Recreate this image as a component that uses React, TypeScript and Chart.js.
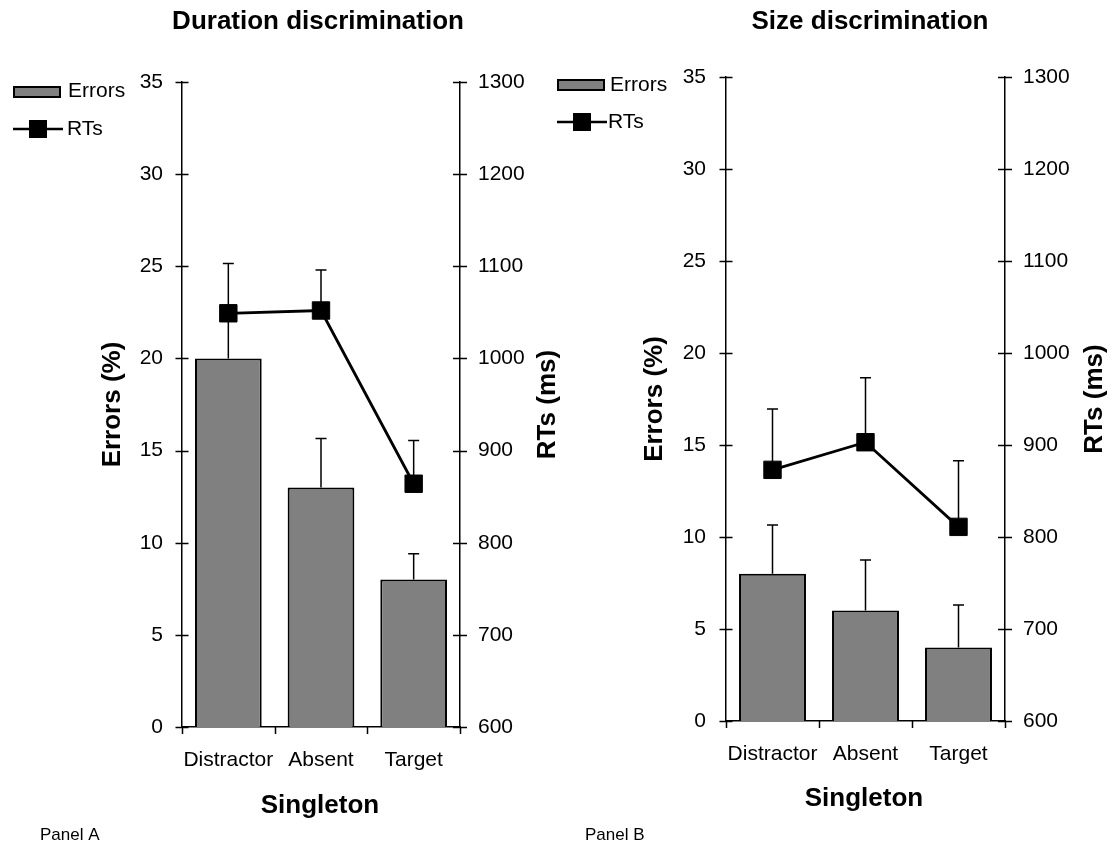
import React, { useEffect, useRef } from 'react';
import { Chart, registerables } from 'chart.js';

Chart.register(...registerables);

// ---------- data ----------
const categories = ['Distractor', 'Absent', 'Target'];

const durationErrors = [20, 13, 8];
const durationErrorsSE = [2.5, 2.65, 1.4];
const durationRTs = [1049, 1052, 864];
const durationRTsSE = [54, 44, 47];

const sizeErrors = [8, 6, 4];
const sizeErrorsSE = [2.65, 2.75, 2.3];
const sizeRTs = [873, 903, 811];
const sizeRTsSE = [66, 70, 72];

const errorsRange = [0, 35];
const errorsStep = 5;
const rtRange = [600, 1300];
const rtStep = 100;

// ---------- styling / layout ----------
const FONT = "'Liberation Sans', Arial, Helvetica, sans-serif";
const BAR_COLOR = '#808080';
const H = 854;

type Panel = {
  id: string;
  title: string;
  panelLabel: string;
  errors: number[];
  errorsSE: number[];
  rts: number[];
  rtsSE: number[];
  canvasLeft: number;
  canvasWidth: number;
  plotLeft: number;
  plotRight: number;
  plotTop: number;
  plotBottom: number;
  titleX: number;
  errTitleX: number;
  rtTitleX: number;
  xTitle: [number, number];
  panelLabelPos: [number, number];
  legend: { boxX: number; boxY: number; errTextY: number; rtY: number; rtTextX: number; errTextX: number };
  leftPad: number;
};

const panels: Panel[] = [
  {
    id: 'A',
    title: 'Duration discrimination',
    panelLabel: 'Panel A',
    errors: durationErrors,
    errorsSE: durationErrorsSE,
    rts: durationRTs,
    rtsSE: durationRTsSE,
    canvasLeft: 0,
    canvasWidth: 575,
    plotLeft: 182,
    plotRight: 460,
    plotTop: 82,
    plotBottom: 727,
    titleX: 318,
    errTitleX: 113,
    rtTitleX: 548,
    xTitle: [320, 806],
    panelLabelPos: [40, 835],
    legend: { boxX: 13, boxY: 86, errTextX: 68, errTextY: 91, rtY: 129, rtTextX: 67 },
    leftPad: 19,
  },
  {
    id: 'B',
    title: 'Size discrimination',
    panelLabel: 'Panel B',
    errors: sizeErrors,
    errorsSE: sizeErrorsSE,
    rts: sizeRTs,
    rtsSE: sizeRTsSE,
    canvasLeft: 545,
    canvasWidth: 573,
    plotLeft: 726,
    plotRight: 1005,
    plotTop: 77,
    plotBottom: 721,
    titleX: 870,
    errTitleX: 655,
    rtTitleX: 1095,
    xTitle: [864, 799],
    panelLabelPos: [585, 835],
    legend: { boxX: 557, boxY: 79, errTextX: 610, errTextY: 85, rtY: 122, rtTextX: 608 },
    leftPad: 20,
  },
];

function makePlugin(p: Panel) {
  const ox = p.canvasLeft;
  return {
    id: 'panelDeco' + p.id,
    beforeDatasetsDraw(chart: any) {
      const ctx = chart.ctx;
      const xs = chart.scales.x;
      const ys = chart.scales.y;
      const y2 = chart.scales.y2;
      ctx.save();
      ctx.strokeStyle = '#000';
      ctx.lineWidth = 1.5;
      const cap = 5.5;
      const drawErr = (px: number, from: number, to: number) => {
        ctx.beginPath();
        ctx.moveTo(px, from);
        ctx.lineTo(px, to);
        ctx.moveTo(px - cap, to);
        ctx.lineTo(px + cap, to);
        ctx.stroke();
      };
      for (let i = 0; i < categories.length; i++) {
        const px = xs.getPixelForValue(i);
        drawErr(px, ys.getPixelForValue(p.errors[i]), ys.getPixelForValue(p.errors[i] + p.errorsSE[i]));
        drawErr(px, y2.getPixelForValue(p.rts[i]), y2.getPixelForValue(p.rts[i] + p.rtsSE[i]));
      }
      ctx.restore();
    },
    afterDraw(chart: any) {
      const ctx = chart.ctx;
      const area = chart.chartArea;
      const xs = chart.scales.x;
      const ys = chart.scales.y;
      const y2 = chart.scales.y2;
      ctx.save();
      ctx.strokeStyle = '#000';
      ctx.lineWidth = 1.5;
      // tick marks crossing the axes
      ctx.beginPath();
      ys.ticks.forEach((t: any) => {
        const py = Math.round(ys.getPixelForValue(t.value)) + 0.5;
        ctx.moveTo(area.left - 6.5, py);
        ctx.lineTo(area.left + 6.5, py);
      });
      y2.ticks.forEach((t: any) => {
        const py = Math.round(y2.getPixelForValue(t.value)) + 0.5;
        ctx.moveTo(area.right - 7, py);
        ctx.lineTo(area.right + 7, py);
      });
      [-0.5, 0.5, 1.5, 2.5].forEach((v) => {
        const px = Math.round(xs.getPixelForValue(v)) + 0.5;
        ctx.moveTo(px, area.bottom);
        ctx.lineTo(px, area.bottom + 7);
      });
      ctx.stroke();

      ctx.fillStyle = '#000';
      // title
      ctx.font = `bold 26px ${FONT}`;
      ctx.textAlign = 'center';
      ctx.textBaseline = 'middle';
      ctx.fillText(p.title, p.titleX - ox, 22);
      // x title
      ctx.fillText('Singleton', p.xTitle[0] - ox, p.xTitle[1]);
      // y titles
      const midY = (area.top + area.bottom) / 2;
      ctx.save();
      ctx.translate(p.errTitleX - ox, midY);
      ctx.rotate(-Math.PI / 2);
      ctx.fillText('Errors (%)', 0, 0);
      ctx.restore();
      ctx.save();
      ctx.translate(p.rtTitleX - ox, midY);
      ctx.rotate(-Math.PI / 2);
      ctx.fillText('RTs (ms)', 0, 0);
      ctx.restore();
      // panel label
      ctx.font = `17px ${FONT}`;
      ctx.textAlign = 'left';
      ctx.fillText(p.panelLabel, p.panelLabelPos[0] - ox, p.panelLabelPos[1]);

      // legend
      const L = p.legend;
      ctx.fillStyle = BAR_COLOR;
      ctx.fillRect(L.boxX - ox, L.boxY, 48, 12);
      ctx.lineWidth = 2;
      ctx.strokeRect(L.boxX - ox + 1, L.boxY + 1, 46, 10);
      ctx.fillStyle = '#000';
      ctx.font = `21px ${FONT}`;
      ctx.fillText('Errors', L.errTextX - ox, L.errTextY);
      ctx.lineWidth = 2.5;
      ctx.beginPath();
      ctx.moveTo(L.boxX - ox, L.rtY);
      ctx.lineTo(L.boxX - ox + 50, L.rtY);
      ctx.stroke();
      ctx.fillRect(L.boxX - ox + 25 - 9, L.rtY - 9, 18, 18);
      ctx.fillText('RTs', L.rtTextX - ox, L.rtY);
      ctx.restore();
    },
  };
}

function PanelChart({ p }: { p: Panel }) {
  const ref = useRef<HTMLCanvasElement>(null);
  useEffect(() => {
    const canvas = ref.current;
    if (!canvas) return;
    const leftW = p.plotLeft - p.canvasLeft;
    const rightW = p.canvasLeft + p.canvasWidth - p.plotRight;
    const bottomH = H - p.plotBottom;
    const tickFont = { family: FONT, size: 21 };
    const chart = new Chart(canvas, {
      type: 'bar',
      data: {
        labels: categories,
        datasets: [
          {
            type: 'line',
            label: 'RTs',
            data: p.rts,
            yAxisID: 'y2',
            borderColor: '#000',
            borderWidth: 2.8,
            backgroundColor: '#000',
            pointStyle: 'rect',
            pointRadius: 12.3,
            pointBorderWidth: 1,
            pointBackgroundColor: '#000',
            pointBorderColor: '#000',
            tension: 0,
            order: 1,
          } as any,
          {
            type: 'bar',
            label: 'Errors',
            data: p.errors,
            yAxisID: 'y',
            backgroundColor: BAR_COLOR,
            borderColor: '#000',
            borderWidth: 2,
            barPercentage: 0.72,
            categoryPercentage: 1,
            order: 2,
          } as any,
        ],
      },
      options: {
        responsive: false,
        animation: false,
        devicePixelRatio: 1,
        layout: { padding: { top: p.plotTop, left: 0, right: 0, bottom: 0 } },
        plugins: {
          legend: { display: false },
          title: { display: false },
          tooltip: { enabled: false },
        },
        scales: {
          x: {
            type: 'category',
            offset: true,
            grid: { display: false, drawTicks: false },
            border: { display: true, color: '#000', width: 1.5 },
            ticks: { color: '#000', font: tickFont, padding: 21, maxRotation: 0, autoSkip: false },
            afterFit: (s: any) => {
              s.height = bottomH;
            },
          },
          y: {
            type: 'linear',
            position: 'left',
            min: errorsRange[0],
            max: errorsRange[1],
            grid: { display: false, drawTicks: false },
            border: { display: true, color: '#000', width: 1.5 },
            ticks: {
              stepSize: errorsStep,
              color: '#000',
              font: tickFont,
              padding: p.leftPad,
              callback: (v: any) => String(v),
            },
            afterFit: (s: any) => {
              s.width = leftW;
            },
          },
          y2: {
            type: 'linear',
            position: 'right',
            min: rtRange[0],
            max: rtRange[1],
            grid: { display: false, drawTicks: false },
            border: { display: true, color: '#000', width: 1.5 },
            ticks: {
              stepSize: rtStep,
              color: '#000',
              font: tickFont,
              padding: 18,
              callback: (v: any) => String(v),
            },
            afterFit: (s: any) => {
              s.width = rightW;
            },
          },
        },
      } as any,
      plugins: [makePlugin(p)],
    });
    return () => chart.destroy();
  }, [p]);
  return (
    <canvas
      ref={ref}
      width={p.canvasWidth}
      height={H}
      style={{ position: 'absolute', left: p.canvasLeft, top: 0, width: p.canvasWidth, height: H }}
    />
  );
}

export default function App() {
  return (
    <div
      style={{
        position: 'absolute',
        left: 0,
        top: 0,
        width: 1118,
        height: H,
        background: '#fff',
        overflow: 'hidden',
      }}
    >
      {panels.map((p) => (
        <PanelChart key={p.id} p={p} />
      ))}
    </div>
  );
}
